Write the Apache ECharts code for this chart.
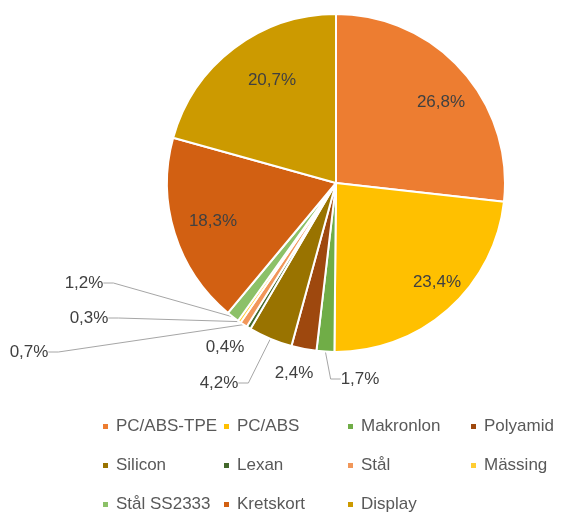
<!DOCTYPE html>
<html>
<head>
<meta charset="utf-8">
<script src="https://cdn.jsdelivr.net/npm/echarts@6/dist/echarts.min.js"></script>
<style>
html,body{margin:0;padding:0;background:#fff;}
#chart{width:561px;height:513px;}
</style>
</head>
<body>
<div id="chart"></div>
<script>
const categories = ['PC/ABS-TPE','PC/ABS','Makronlon','Polyamid','Silicon','Lexan','Stål','Mässing','Stål SS2333','Kretskort','Display'];
const values = [26.8, 23.4, 1.7, 2.4, 4.2, 0.4, 0.7, 0.3, 1.2, 18.3, 20.7];
const colors = ['#ED7D31','#FFC000','#70AD47','#9E480E','#997300','#43682B','#F1975A','#FFCD33','#8CC168','#D26012','#CC9A00'];

// label placement (pixel centres) and which labels get a leader line
const labelPos = [[441,102],[437,282],[360,379],[294,373],[219,383],[225,347],[29,352],[89,318],[84,283],[213,221],[272,80]];
const showLine = [false,false,true,false,true,false,true,true,true,false,false];

const FONT = 'Liberation Sans';
const chart = echarts.init(document.getElementById('chart'), null, {renderer:'canvas'});

const data = categories.map((c,i)=>({
  name:c, value:values[i],
  itemStyle:{color:colors[i]},
  labelLine:{show:showLine[i]}
}));

function legendCol(names, left){
  return {
    orient:'vertical', left:left, top:418, padding:0,
    itemWidth:7, itemHeight:7, icon:'rect', itemGap:22,
    selectedMode:false,
    data:names,
    textStyle:{fontFamily:FONT, fontSize:17, color:'#595959', lineHeight:17, padding:[0,0,0,2]}
  };
}

chart.setOption({
  animation:false,
  backgroundColor:'#fff',
  legend:[
    legendCol(['PC/ABS-TPE','Silicon','Stål SS2333'], 101),
    legendCol(['PC/ABS','Lexan','Kretskort'], 222),
    legendCol(['Makronlon','Stål','Display'], 346),
    legendCol(['Polyamid','Mässing'], 469)
  ],
  series:[{
    type:'pie',
    center:[336,183],
    radius:[0,169],
    startAngle:90,
    clockwise:true,
    avoidLabelOverlap:false,
    itemStyle:{borderColor:'#fff', borderWidth:2},
    label:{
      show:true, position:'outside',
      formatter:p=>p.value.toFixed(1).replace('.',',')+'%',
      fontFamily:FONT, fontSize:17, color:'#404040'
    },
    labelLine:{show:true, length:10, length2:10, lineStyle:{color:'#A6A6A6', width:1}},
    labelLayout:function(p){
      const pos = labelPos[p.dataIndex];
      return {x:pos[0], y:pos[1], align:'center', verticalAlign:'middle'};
    },
    emphasis:{disabled:true},
    data:data
  }]
});
</script>
</body>
</html>
